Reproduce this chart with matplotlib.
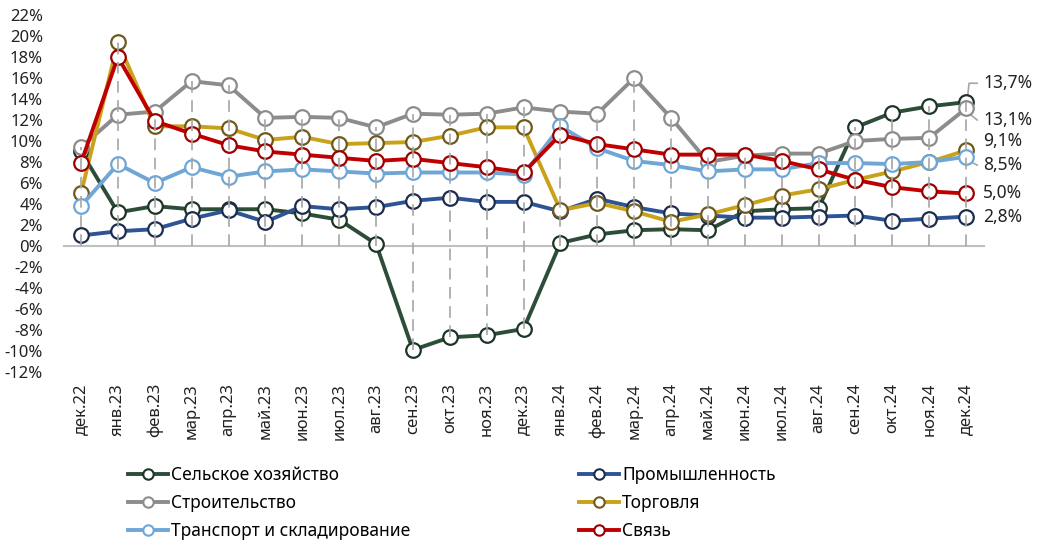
import matplotlib.pyplot as plt
from matplotlib.lines import Line2D
import numpy as np

# ~~~ DATA ~~~~~~~~~~~~~~~~~~~~~~~~~~~~~~~~~~~~~~~~~~~~~~~~~~~~~~~~~~~~~~~~~~~
months = ['дек.22', 'янв.23', 'фев.23', 'мар.23', 'апр.23', 'май.23',
          'июн.23', 'июл.23', 'авг.23', 'сен.23', 'окт.23', 'ноя.23',
          'дек.23', 'янв.24', 'фев.24', 'мар.24', 'апр.24', 'май.24',
          'июн.24', 'июл.24', 'авг.24', 'сен.24', 'окт.24', 'ноя.24',
          'дек.24']

agri = [9.0, 3.2, 3.8, 3.5, 3.5, 3.5, 3.1, 2.5, 0.2, -9.9, -8.7, -8.5,
        -7.9, 0.3, 1.1, 1.5, 1.6, 1.5, 3.3, 3.5, 3.6, 11.3, 12.7, 13.3, 13.7]
industry = [1.0, 1.4, 1.6, 2.6, 3.4, 2.3, 3.8, 3.5, 3.7, 4.3, 4.6, 4.2,
            4.2, 3.3, 4.5, 3.7, 3.1, 2.9, 2.7, 2.7, 2.8, 2.9, 2.4, 2.6, 2.8]
construction = [9.4, 12.5, 12.8, 15.7, 15.3, 12.2, 12.3, 12.2, 11.3, 12.6,
                12.5, 12.6, 13.2, 12.8, 12.6, 16.0, 12.2, 8.0, 8.6, 8.8,
                8.8, 10.0, 10.2, 10.3, 13.1]
trade = [5.0, 19.4, 11.4, 11.4, 11.2, 10.1, 10.4, 9.7, 9.8, 9.9, 10.5, 11.3,
         11.3, 3.4, 4.1, 3.3, 2.3, 3.0, 3.9, 4.8, 5.4, 6.3, 7.1, 8.0, 9.1]
transport = [3.8, 7.8, 6.0, 7.5, 6.6, 7.1, 7.3, 7.1, 6.9, 7.0, 7.0, 7.0,
             6.8, 11.4, 9.3, 8.1, 7.7, 7.1, 7.3, 7.3, 7.9, 7.9, 7.8, 8.0, 8.5]
telecom = [7.9, 18.0, 11.9, 10.7, 9.6, 9.0, 8.7, 8.4, 8.1, 8.3, 7.9, 7.5,
           7.0, 10.6, 9.7, 9.2, 8.7, 8.7, 8.7, 8.1, 7.3, 6.3, 5.6, 5.2, 5.0]

series = [
    ('Сельское хозяйство', agri, '#2c4d37', '#1d3526'),
    ('Промышленность', industry, '#2f5496', '#1c2c4c'),
    ('Строительство', construction, '#8c8c8c', '#8c8c8c'),
    ('Торговля', trade, '#c9a21a', '#6e5a1c'),
    ('Транспорт и складирование', transport, '#6fa6d6', '#6fa6d6'),
    ('Связь', telecom, '#c00000', '#9c0000'),
]

# position of the right-hand value labels (y in axis units)
label_y = [15.5, 2.8, 12.0, 10.0, 7.7, 5.0]

plt.rcParams['font.family'] = ['Noto Sans', 'DejaVu Sans']

# ~~~ PLOT ~~~~~~~~~~~~~~~~~~~~~~~~~~~~~~~~~~~~~~~~~~~~~~~~~~~~~~~~~~~~~~~~~~~
fig = plt.figure(figsize=(10.39, 5.53), dpi=100)
ax = fig.add_axes([0.0602, 0.3273, 0.8874, 0.6456])

x = np.arange(len(months))
allv = np.array([s[1] for s in series])
top = allv.max(axis=0)
bot = np.minimum(allv.min(axis=0), 0)

ax.axhline(0, color='#bfbfbf', lw=1.5, zorder=1)
ax.vlines(x, bot, top, colors='#a6a6a6', linestyles=(0, (7, 4.5)), lw=1.2,
          zorder=8)

handles = []
for name, vals, col, edge in series:
    ax.plot(x, vals, color=col, lw=2.8, marker='o', ms=10.5,
            mfc='white', mec=edge, mew=1.6, zorder=3)
    handles.append(Line2D([], [], color=col, lw=2.8, marker='o', ms=7.5,
                          mfc='white', mec=edge, mew=1.5, label=name))

# value labels on the right
for (name, vals, col, edge), ly in zip(series, label_y):
    txt = f'{vals[-1]:.1f}%'.replace('.', ',')
    ax.text(24.46, ly, txt, fontsize=12.5, va='center', ha='left',
            color='#222222')

# leader lines
ax.plot([24.03, 24.08, 24.3], [agri[-1] + 0.2, label_y[0], label_y[0]],
        color='#a6a6a6', lw=1.2, clip_on=False, zorder=2)
ax.plot([24.05, 24.3], [construction[-1] - 0.4, label_y[2]],
        color='#a6a6a6', lw=1.2, clip_on=False, zorder=2)
ax.plot([24.03, 24.3], [transport[-1] - 0.3, label_y[4]],
        color='#a6a6a6', lw=1.2, clip_on=False, zorder=2)

ax.set_xlim(-0.5, 24.5)
ax.set_ylim(-12, 22)
ax.set_yticks(np.arange(-12, 23, 2))
ax.set_yticklabels([f'{v}%' for v in range(-12, 23, 2)])
ax.set_xticks(x)
ax.set_xticklabels(months, rotation=90)
ax.tick_params(length=0, labelsize=12, colors='#222222')
ax.tick_params(axis='y', pad=14)
ax.tick_params(axis='x', pad=8)
for sp in ax.spines.values():
    sp.set_visible(False)

leg_kw = dict(frameon=False, fontsize=12.5, handlelength=2.3,
              handletextpad=0.2, labelspacing=0.56, borderpad=0,
              borderaxespad=0, loc='upper left')
fig.legend(handles=[handles[0], handles[2], handles[4]],
           bbox_to_anchor=(0.123, 0.157), **leg_kw)
fig.legend(handles=[handles[1], handles[3], handles[5]],
           bbox_to_anchor=(0.557, 0.157), **leg_kw)

plt.savefig('out.png', dpi=100)
